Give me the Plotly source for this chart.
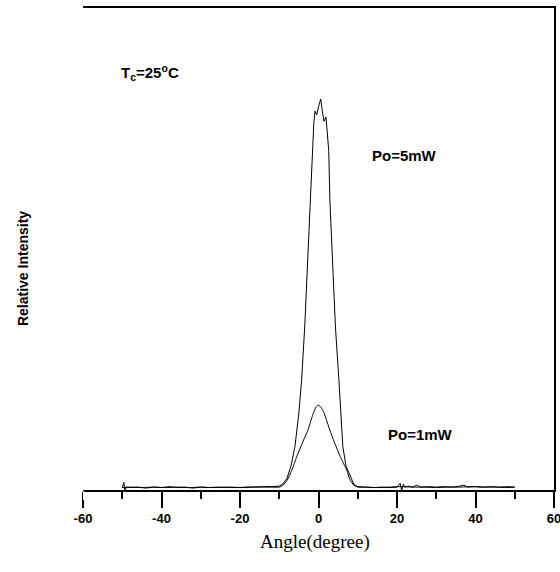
import plotly.graph_objects as go

# ---- data ----
angle_5mw = [-50, -49.6, -49.3, -49, -48, -46, -44, -42, -40, -38, -36, -34, -32, -30,
             -28, -26, -24, -22, -20, -18, -16, -14, -12, -11,
             -10, -9, -8, -7, -6, -5, -4.3, -3.5, -2.8, -2.2, -1.6, -1.2, -0.9, -0.46,
             0.0, 0.56, 1.0, 1.4, 1.9, 2.2, 2.6, 2.9, 3.6, 4.3, 5.2, 6.2, 7.0, 8.0, 9.0, 10,
             11, 12, 14, 16, 18, 20, 20.8, 21.2, 21.6, 22, 23, 24, 25, 26, 28, 30, 32, 34,
             36, 37, 38, 40, 42, 44, 46, 48, 50]
int_5mw = [0.005, 0.016, -0.003, 0.006, 0.005, 0.006, 0.004, 0.006, 0.005, 0.007, 0.005, 0.006, 0.004, 0.006,
           0.005, 0.006, 0.005, 0.006, 0.005, 0.006, 0.006, 0.007, 0.007, 0.008,
           0.008, 0.013, 0.025, 0.05, 0.09, 0.16, 0.228, 0.34, 0.47, 0.602, 0.705, 0.76, 0.786, 0.778,
           0.795, 0.811, 0.785, 0.765, 0.774, 0.74, 0.705, 0.602, 0.47, 0.34, 0.228, 0.09, 0.05, 0.03, 0.012, 0.007,
           0.006, 0.006, 0.005, 0.006, 0.005, 0.006, 0.014, -0.002, 0.012, 0.006, 0.008, 0.006, 0.010, 0.006, 0.007, 0.006, 0.007, 0.006,
           0.008, 0.010, 0.006, 0.007, 0.006, 0.007, 0.006, 0.007, 0.006]

angle_1mw = [-50, -48, -45, -42, -39, -36, -33, -30, -27, -24, -21, -18, -15, -12,
             -10, -9, -8, -6.8, -5.5, -4, -2.7, -2.0, -1.5, -1.0, -0.6, -0.2, 0.2, 0.7, 1.0, 1.5, 2.0, 2.9,
             4, 5.5, 7.2, 8, 9, 10,
             12, 15, 18, 21, 24, 27, 30, 33, 36, 39, 42, 45, 48, 50]
int_1mw = [0.005, 0.006, 0.005, 0.006, 0.005, 0.006, 0.005, 0.006, 0.005, 0.006, 0.005, 0.006, 0.006, 0.006,
           0.006, 0.01, 0.02, 0.041, 0.07, 0.10, 0.124, 0.142, 0.155, 0.166, 0.173, 0.176, 0.175, 0.171, 0.167, 0.158, 0.146, 0.124,
           0.10, 0.07, 0.041, 0.022, 0.01, 0.006,
           0.006, 0.005, 0.006, 0.007, 0.006, 0.006, 0.005, 0.006, 0.006, 0.007, 0.006, 0.006, 0.005, 0.006]

x_ticks = [-60, -40, -20, 0, 20, 40, 60]
x_tick_labels = ["-60", "-40", "-20", "0", "20", "40", "60"]

fig = go.Figure()
fig.add_trace(go.Scatter(x=angle_5mw, y=int_5mw, mode="lines",
                         line=dict(color="black", width=1), showlegend=False))
fig.add_trace(go.Scatter(x=angle_1mw, y=int_1mw, mode="lines",
                         line=dict(color="black", width=1, shape="spline", smoothing=0.6),
                         showlegend=False))

label_font = dict(family="Liberation Sans, Arial", size=15, color="black")

fig.update_layout(
    width=560, height=572,
    margin=dict(l=83, r=6, t=8, b=82),
    paper_bgcolor="white", plot_bgcolor="white",
    xaxis=dict(range=[-60, 60], showline=True, linecolor="black", linewidth=1.5,
               mirror=True, showgrid=False, zeroline=False, automargin=False,
               tickmode="array", tickvals=x_ticks, ticktext=x_tick_labels,
               ticks="outside", ticklen=16, tickwidth=1.5, tickcolor="black",
               ticklabeloverflow="allow",
               tickfont=dict(family="Liberation Sans, Arial", size=13, color="black", weight="bold"),
               minor=dict(dtick=10, tick0=-50, ticks="outside", ticklen=7, tickwidth=1.5, tickcolor="black")),
    yaxis=dict(range=[0, 1], side="right", showline=True, linecolor="black", linewidth=1.5,
               showgrid=False, zeroline=False, showticklabels=False, ticks="", automargin=False),
    annotations=[
        dict(x=-42.9, y=0.867, xref="x", yref="y", text="<b>T<sub>c</sub>=25<sup>o</sup>C</b>",
             showarrow=False, font=label_font),
        dict(x=21.8, y=0.695, xref="x", yref="y", text="<b>Po=5mW</b>",
             showarrow=False, font=label_font),
        dict(x=25.9, y=0.116, xref="x", yref="y", text="<b>Po=1mW</b>",
             showarrow=False, font=label_font),
        dict(x=-0.147, y=0.46, xref="paper", yref="paper", text="<b>Relative Intensity</b>",
             textangle=-90, showarrow=False,
             font=dict(family="Liberation Sans, Arial", size=14, color="black")),
        dict(x=0.492, y=-0.108, xref="paper", yref="paper", text="Angle(degree)",
             showarrow=False, yanchor="middle",
             font=dict(family="Liberation Serif, Times New Roman", size=19, color="black")),
    ],
    shapes=[
        dict(type="rect", xref="x", yref="paper", x0=-60.5, x1=-59.5, y0=-0.021, y1=-0.003,
             fillcolor="white", line=dict(width=0), layer="above"),
    ],
)

fig.write_html("out.html", config={"displayModeBar": False},
               post_script="document.body.style.margin='0';document.body.style.overflow='hidden';")
